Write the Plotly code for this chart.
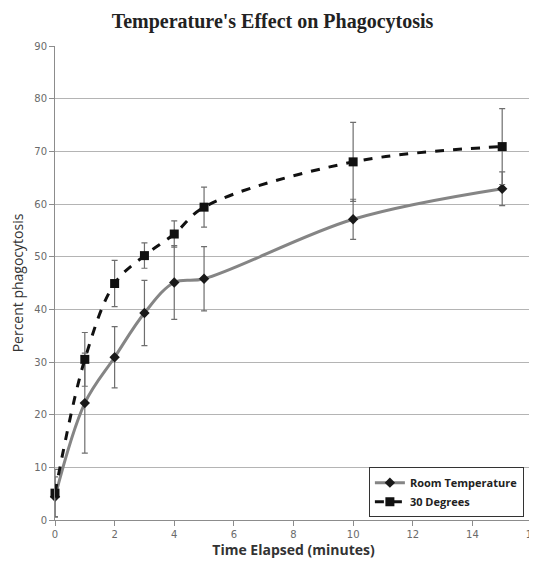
import plotly.graph_objects as go

time_min = [0, 1, 2, 3, 4, 5, 10, 15]
room_temp = [4.4, 22.2, 30.9, 39.3, 45.1, 45.8, 57.1, 62.9]
room_err = [3.8, 9.5, 5.8, 6.2, 7.0, 6.1, 3.8, 3.2]
deg30 = [5.1, 30.5, 44.9, 50.2, 54.3, 59.4, 68.0, 70.9]
deg30_err = [4.5, 5.1, 4.4, 2.4, 2.5, 3.8, 7.5, 7.2]

x_ticks = list(range(0, 17, 2))
y_ticks = list(range(0, 91, 10))

fig = go.Figure()
fig.add_trace(go.Scatter(
    x=time_min, y=room_temp, name="<b>Room Temperature</b>", mode="lines+markers",
    line=dict(color="#858585", width=3, shape="spline", smoothing=1.0),
    marker=dict(symbol="diamond", size=8, color="#1a1a1a"),
    error_y=dict(type="data", array=room_err, visible=True, color="#6e6e6e", thickness=1.2, width=3),
    cliponaxis=False,
))
fig.add_trace(go.Scatter(
    x=time_min, y=deg30, name="<b>30 Degrees</b>", mode="lines+markers",
    line=dict(color="#111111", width=3, dash="dash", shape="spline", smoothing=1.0),
    marker=dict(symbol="square", size=9, color="#111111"),
    error_y=dict(type="data", array=deg30_err, visible=True, color="#6e6e6e", thickness=1.2, width=3),
    cliponaxis=False,
))

# page body has an 8px margin, so the figure is sized/offset accordingly
fig.update_layout(
    width=529, height=556,
    margin=dict(l=47, r=5, t=38, b=44),
    paper_bgcolor="white", plot_bgcolor="white",
    title=dict(text="<b>Temperature's Effect on Phagocytosis</b>", x=0.5, xanchor="center",
               y=0.977, yanchor="middle",
               font=dict(family="Liberation Serif", size=20, color="#222222")),
    font=dict(family="Open Sans", color="#595959"),
    legend=dict(x=0.983, xanchor="right", y=0.006, yanchor="bottom",
                bgcolor="white", bordercolor="#333333", borderwidth=1,
                font=dict(family="Open Sans", size=11, color="#222222"),
                tracegroupgap=2),
    showlegend=True,
)
fig.update_xaxes(
    range=[0, 16], tickvals=x_ticks, ticks="outside", ticklen=5, tickcolor="#8c8c8c",
    showline=True, linecolor="#8c8c8c", linewidth=1, showgrid=False, zeroline=False,
    automargin=False, ticklabeloverflow="allow",
    tickfont=dict(family="DejaVu Sans", size=10, color="#6a6a6a"),
    title=dict(text="<b>Time Elapsed (minutes)</b>", standoff=5,
               font=dict(family="Open Sans", size=14, color="#333333")),
)
fig.update_yaxes(
    range=[0, 90], tickvals=y_ticks, ticks="outside", ticklen=5, tickcolor="#8c8c8c",
    showline=True, linecolor="#8c8c8c", linewidth=1, showgrid=True, gridcolor="#b4b4b4",
    gridwidth=1, zeroline=False, automargin=False,
    tickfont=dict(family="DejaVu Sans", size=10, color="#6a6a6a"),
    title=dict(text="Percent phagocytosis", standoff=8,
               font=dict(family="Open Sans", size=14, color="#333333")),
)

fig.write_html("out.html")
